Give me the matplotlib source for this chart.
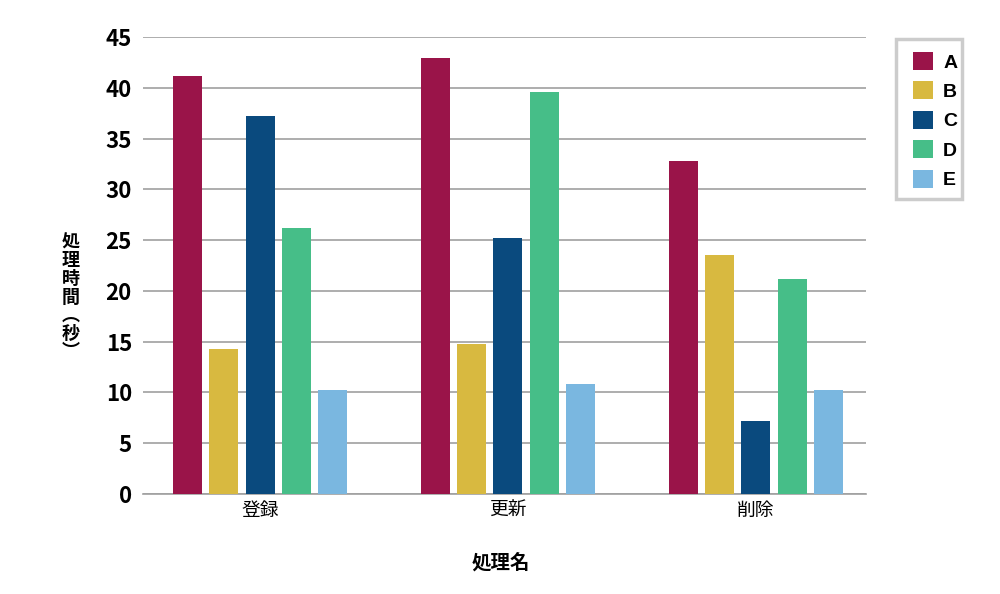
import matplotlib
matplotlib.use("Agg")
import matplotlib.pyplot as plt
from matplotlib.patches import Rectangle
import numpy as np

plt.rcParams['font.family'] = ['Noto Sans CJK JP', 'DejaVu Sans']

categories = ["登録", "更新", "削除"]
series_names = ["A", "B", "C", "D", "E"]
A = [41.2, 42.9, 32.8]
B = [14.3, 14.8, 23.5]
C = [37.2, 25.2, 7.2]
D = [26.2, 39.6, 21.2]
E = [10.2, 10.8, 10.2]
series_values = [A, B, C, D, E]
colors = ["#9a1449", "#d8b940", "#0a4a7e", "#46be88", "#7ab7e0"]
yticks = [0, 5, 10, 15, 20, 25, 30, 35, 40, 45]

fig = plt.figure(figsize=(10, 5.94), dpi=100)
ax = fig.add_axes([0.143, 0.1684, 0.723, 0.7693])

x = np.arange(len(categories))
step = 0.1468
width = 0.117
for i, (name, vals, col) in enumerate(zip(series_names, series_values, colors)):
    ax.bar(x + (i - 2) * step, vals, width, color=col, label=name, zorder=3)

ax.set_xlim(-0.472, 2.444)
ax.set_ylim(0, 45)
ax.set_yticks(yticks)
ax.set_yticklabels([str(t) for t in yticks], fontsize=16, fontweight='bold')
ax.set_xticks(x)
ax.set_xticklabels(categories, fontsize=13.5)
ax.tick_params(axis='both', length=0)
ax.tick_params(axis='y', pad=8)
ax.tick_params(axis='x', pad=4)
ax.yaxis.grid(True, color='#a0a0a0', linewidth=1.2, zorder=0)
ax.set_axisbelow(True)
for s in ['top', 'right', 'left']:
    ax.spines[s].set_visible(False)
ax.spines['bottom'].set_color('#a0a0a0')
ax.spines['bottom'].set_linewidth(1.2)

fig.text(0.071, 0.5, "\n".join("処理時間") + "\n︵\n秒\n︶", ha='center', va='center',
         fontsize=13, fontweight='bold', linespacing=0.95)
fig.text(0.501, 0.052, "処理名", ha='center', va='center', fontsize=14, fontweight='bold')

# legend frame
fig.patches.append(Rectangle((0.896, 1 - 199 / 594), 0.066, 160 / 594, transform=fig.transFigure,
                             facecolor='white', edgecolor='#cccccc', linewidth=2.5, zorder=1))
handles, labels = ax.get_legend_handles_labels()
leg = fig.legend(handles, labels, loc='upper left', bbox_to_anchor=(0.913, 1 - 52 / 594),
                 bbox_transform=fig.transFigure,
                 frameon=False, handlelength=1.05, handleheight=1.05,
                 handletextpad=0.5, labelspacing=0.5, borderpad=0.0, borderaxespad=0.0,
                 prop={'family': 'Liberation Sans', 'weight': 'bold', 'size': 14})
leg.set_zorder(5)

fig.savefig("out.png", dpi=100)
